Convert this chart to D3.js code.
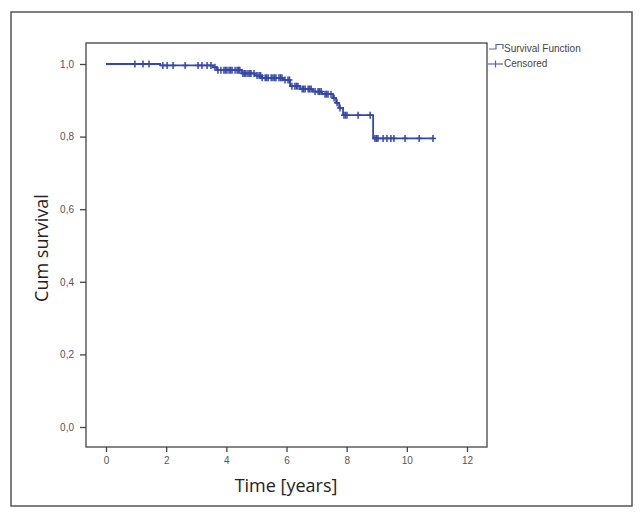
<!DOCTYPE html>
<html>
<head>
<meta charset="utf-8">
<script src="https://cdn.jsdelivr.net/npm/d3@7"></script>
<style>
  html, body { margin: 0; padding: 0; background: #fff; }
  svg { display: block; }
</style>
</head>
<body>
<div id="chart"></div>
<script>
// ---- data ----
const eventTimes = [0, 1.80, 3.56, 3.69, 4.52, 4.95, 5.19, 5.88, 6.12, 6.45, 6.88, 7.18, 7.55, 7.65, 7.75, 7.88, 8.88];
const survival   = [1.0, 0.996, 0.991, 0.983, 0.974, 0.968, 0.962, 0.956, 0.939, 0.931, 0.924, 0.917, 0.906, 0.893, 0.879, 0.859, 0.795];
const endTime = 10.9;
const censoredTimes = [
  0.96, 1.23, 1.43,
  1.89, 2.03, 2.23, 2.63, 3.06, 3.19, 3.36, 3.49,
  3.62, 3.72, 3.82, 3.92, 3.97, 4.02, 4.09, 4.14, 4.19, 4.29, 4.36, 4.41, 4.45, 4.55, 4.60, 4.65, 4.72, 4.78, 4.82, 4.92,
  5.02, 5.09, 5.14, 5.19, 5.29, 5.34, 5.39, 5.49, 5.55, 5.60, 5.65, 5.75, 5.80, 5.85, 5.95,
  6.05, 6.10, 6.18, 6.28, 6.33, 6.38, 6.52, 6.57, 6.62, 6.72, 6.77, 6.82, 6.95,
  7.05, 7.10, 7.15, 7.28, 7.33, 7.38, 7.48, 7.58, 7.68, 7.78,
  7.91, 7.96, 8.01, 8.38, 8.78,
  8.94, 8.99, 9.04, 9.21, 9.34, 9.47, 9.57, 9.94, 10.41, 10.87
];
const xTicks = [0, 2, 4, 6, 8, 10, 12];
const yTicks = [0, 0.2, 0.4, 0.6, 0.8, 1.0];
const yTickLabels = ["0,0", "0,2", "0,4", "0,6", "0,8", "1,0"];
const xTitle = "Time [years]";
const yTitle = "Cum survival";
const legendLabels = ["Survival Function", "Censored"];

// ---- drawing ----
const W = 642, H = 519;
const box = { left: 86, top: 43, right: 487, bottom: 447 };
const lineColor = "#3447a8";

const svg = d3.select("#chart").append("svg").attr("width", W).attr("height", H);
svg.append("rect").attr("width", W).attr("height", H).attr("fill", "#fff");

// outer frame
svg.append("rect").attr("x", 11).attr("y", 12).attr("width", 621).attr("height", 494)
  .attr("fill", "none").attr("stroke", "#555").attr("stroke-width", 1.5);

const x = d3.scaleLinear().domain([0, 12]).range([106, 467]);
const y = d3.scaleLinear().domain([0, 1]).range([427, 64]);

// plot box
svg.append("rect").attr("x", box.left).attr("y", box.top)
  .attr("width", box.right - box.left).attr("height", box.bottom - box.top)
  .attr("fill", "none").attr("stroke", "#444").attr("stroke-width", 1.3);

// axes
const xAxis = svg.append("g").attr("transform", `translate(0,${box.bottom})`)
  .call(d3.axisBottom(x).tickValues(xTicks).tickSize(5).tickPadding(5).tickSizeOuter(0).tickFormat(d3.format("d")));
const yAxis = svg.append("g").attr("transform", `translate(${box.left},0)`)
  .call(d3.axisLeft(y).tickValues(yTicks).tickSize(6).tickPadding(6).tickSizeOuter(0)
    .tickFormat((d, i) => yTickLabels[i]));
[xAxis, yAxis].forEach(g => {
  g.select(".domain").remove();
  g.selectAll(".tick line").attr("stroke", "#444").attr("stroke-width", 1.3);
  g.selectAll(".tick text").attr("fill", "#555").attr("font-family", "Liberation Sans, Arial, sans-serif").attr("font-size", 10);
});

// survival step curve
const stepData = eventTimes.map((t, i) => [t, survival[i]]);
stepData.push([endTime, survival[survival.length - 1]]);
const line = d3.line().x(d => x(d[0])).y(d => y(d[1])).curve(d3.curveStepAfter);
svg.append("path").datum(stepData).attr("d", line)
  .attr("fill", "none").attr("stroke", lineColor).attr("stroke-width", 1.8);

// censored marks
function sAt(t) {
  let s = survival[0];
  for (let i = 0; i < eventTimes.length; i++) if (eventTimes[i] <= t) s = survival[i];
  return s;
}
const cg = svg.append("g").attr("stroke", lineColor).attr("stroke-width", 1.5);
censoredTimes.forEach(t => {
  const cx = x(t), cy = y(sAt(t));
  cg.append("line").attr("x1", cx).attr("x2", cx).attr("y1", cy - 3.5).attr("y2", cy + 3.5);
  cg.append("line").attr("x1", cx - 3).attr("x2", cx + 3).attr("y1", cy).attr("y2", cy);
});

// legend
const lg = svg.append("g");
lg.append("path").attr("d", "M489,49 H496 V44.5 H503 V49").attr("fill", "none")
  .attr("stroke", "#55679f").attr("stroke-width", 1.2);
lg.append("line").attr("x1", 488).attr("x2", 503).attr("y1", 64).attr("y2", 64)
  .attr("stroke", "#55679f").attr("stroke-width", 1.2);
lg.append("line").attr("x1", 495.5).attr("x2", 495.5).attr("y1", 60.5).attr("y2", 67.5)
  .attr("stroke", "#55679f").attr("stroke-width", 1.2);
lg.selectAll("text.leg").data(legendLabels).enter().append("text")
  .attr("x", 504).attr("y", (d, i) => 52 + i * 15)
  .attr("font-family", "Liberation Sans, Arial, sans-serif").attr("font-size", 10)
  .attr("fill", "#444").text(d => d);

// axis titles
svg.append("text").attr("x", (box.left + box.right) / 2 - 0.5).attr("y", 492)
  .attr("text-anchor", "middle").attr("font-family", "Open Sans, sans-serif")
  .attr("font-size", 18).attr("fill", "#222").text(xTitle);
svg.append("text").attr("transform", "translate(48,248) rotate(-90)")
  .attr("text-anchor", "middle").attr("font-family", "Open Sans, sans-serif")
  .attr("font-size", 18).attr("fill", "#222").text(yTitle);
</script>
</body>
</html>
